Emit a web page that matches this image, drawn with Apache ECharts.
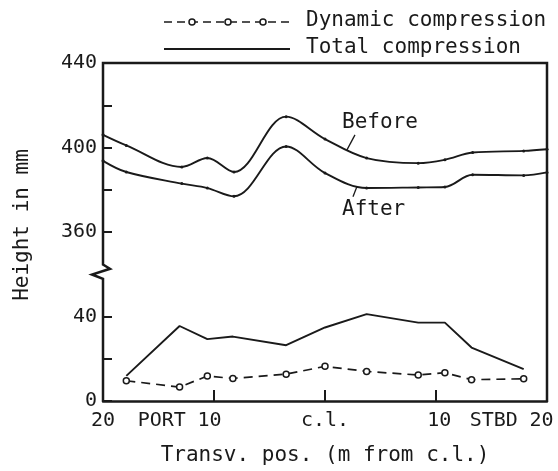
<!DOCTYPE html>
<html><head><meta charset="utf-8">
<script src="https://cdn.jsdelivr.net/npm/echarts@6/dist/echarts.min.js"></script>
<style>html,body{margin:0;padding:0;background:#fff}#c{width:558px;height:471px}</style>
</head><body><div id="c"></div>
<script>
// ---- data (transverse position in m; negative = PORT, positive = STBD) ----
const stations = [-17.9, -13.1, -10.6, -8.3, -3.5, 0, 3.75, 8.4, 10.8, 13.2, 17.9];
const totalCompression = [11.9, 35.5, 29.3, 30.5, 26.4, 34.8, 41.1, 37.1, 37.1, 25.3, 15.1];
const dynamicCompression = [9.6, 6.6, 11.8, 10.7, 12.7, 16.4, 14.0, 12.3, 13.4, 10.1, 10.5];
const upperStations = [-20, -17.9, -12.9, -10.6, -8.2, -3.5, 0, 3.75, 8.4, 10.8, 13.3, 17.9, 20];
const heightBefore = [406, 401, 390.8, 395, 388.4, 414.6, 404, 395, 392.6, 394.2, 397.6, 398.4, 399.2];
const heightAfter = [393.7, 388.4, 382.9, 380.8, 376.9, 400.5, 387.9, 380.8, 381.1, 381.3, 387.1, 386.8, 388.2];
const yTickValues = [0, 20, 40, 360, 380, 400, 420, 440];
const yLabelValues = [0, 40, 360, 400, 440];
const xTickValues = [-10, 0, 10];
const xLabelValues = [-20, -14.7, -10.4, 0, 10.3, 15.2, 19.5];
const xLabelTexts = ['20', 'PORT', '10', 'c.l.', '10', 'STBD', '20'];
const legendNames = ['Dynamic compression', 'Total compression'];

// broken axis: values above the break are shifted down by OFFSET
const OFFSET = 280;
const BREAK_AT = 61.3;
const toAxis = v => v >= 200 ? v - OFFSET : v;
const fromAxis = v => v >= 70 ? v + OFFSET : v;

const INK = '#1a1a1a';
const FONT = '"DejaVu Sans Mono", "Liberation Mono", monospace';

const chart = echarts.init(document.getElementById('c'));
const pair = (xs, ys) => xs.map((x, i) => [x, toAxis(ys[i])]);

chart.setOption({
  animation: false,
  backgroundColor: '#ffffff',
  grid: { left: 103, right: 11, top: 63, bottom: 69 },
  xAxis: {
    type: 'value', min: -20, max: 20,
    splitLine: { show: false },
    axisLine: { show: true, onZero: false, lineStyle: { color: INK, width: 2.5 } },
    axisTick: { show: true, inside: true, length: 11, customValues: xTickValues, lineStyle: { color: INK, width: 2 } },
    axisLabel: {
      customValues: xLabelValues, color: INK, fontFamily: FONT, fontSize: 20, margin: 10,
      formatter: v => {
        let best = 0;
        xLabelValues.forEach((p, i) => { if (Math.abs(p - v) < Math.abs(xLabelValues[best] - v)) best = i; });
        return xLabelTexts[best];
      }
    },
    name: 'Transv. pos. (m from c.l.)', nameLocation: 'middle', nameGap: 44,
    nameTextStyle: { color: INK, fontFamily: FONT, fontSize: 21 }
  },
  yAxis: {
    type: 'value', min: 0, max: 160,
    splitLine: { show: false },
    axisLine: { show: false, onZero: false },
    axisTick: { show: true, inside: true, length: 9, customValues: yTickValues.map(toAxis), lineStyle: { color: INK, width: 2 } },
    axisLabel: {
      customValues: yLabelValues.map(toAxis), color: INK, fontFamily: FONT, fontSize: 20, margin: 6,
      formatter: v => String(Math.round(fromAxis(v)))
    },
    name: 'Height in mm', nameLocation: 'middle', nameGap: 70, nameRotate: 90,
    nameTextStyle: { color: INK, fontFamily: FONT, fontSize: 21, padding: [0, 0, 0, 14] }
  },
  series: [
    {
      name: 'Before', type: 'line', data: pair(upperStations, heightBefore), smooth: 0.35,
      symbol: 'circle', symbolSize: 3, showSymbol: true,
      lineStyle: { color: INK, width: 1.9 }, itemStyle: { color: INK }
    },
    {
      name: 'After', type: 'line', data: pair(upperStations, heightAfter), smooth: 0.35,
      symbol: 'circle', symbolSize: 3,
      lineStyle: { color: INK, width: 1.9 }, itemStyle: { color: INK }
    },
    {
      name: legendNames[1], type: 'line', data: pair(stations, totalCompression),
      symbol: 'none', lineStyle: { color: INK, width: 1.9 }
    },
    {
      name: legendNames[0], type: 'line', data: pair(stations, dynamicCompression),
      symbol: 'circle', symbolSize: 6,
      lineStyle: { color: INK, width: 1.7, type: [9, 6] },
      itemStyle: { color: '#ffffff', borderColor: INK, borderWidth: 1.5 }
    }
  ]
});

// frame with axis-break zigzag, legend and curve annotations
const px = (x, y) => chart.convertToPixel({ gridIndex: 0 }, [x, y]);
const [xL, yB] = px(-20, 0);
const [xR, yT] = px(20, 160);
const yBr = px(-20, BREAK_AT)[1];

const bt = px(1.53, toAxis(411.7));
const bl1 = px(2.70, toAxis(406.0)), bl2 = px(1.98, toAxis(398.9));
const at = px(1.53, toAxis(370.6));
const al1 = px(2.88, toAxis(381.5)), al2 = px(2.52, toAxis(376.7));

const textStyle = (t) => ({ text: t, font: '21px ' + FONT, fill: INK, verticalAlign: 'middle', align: 'left' });
const lineEl = (a, b, w, dash) => ({
  type: 'line', shape: { x1: a[0], y1: a[1], x2: b[0], y2: b[1] },
  style: { stroke: INK, lineWidth: w, lineDash: dash || null }
});

const legendY1 = 22, legendY2 = 49, legendX0 = 164, legendX1 = 290, legendTextX = 306;

chart.setOption({
  graphic: [
    {
      type: 'polyline', silent: true,
      shape: { points: [
        [xL, yB], [xL, yBr + 7.3], [xL - 11, yBr + 3], [xL + 7, yBr - 2.7], [xL, yBr - 7],
        [xL, yT], [xR, yT], [xR, yB]
      ] },
      style: { stroke: INK, lineWidth: 2.5, fill: null }
    },
    { type: 'text', x: bt[0], y: bt[1], style: textStyle('Before') },
    lineEl(bl1, bl2, 1.3),
    { type: 'text', x: at[0], y: at[1], style: textStyle('After') },
    lineEl(al1, al2, 1.3),
    // legend
    lineEl([legendX0, legendY1], [legendX1, legendY1], 1.6, [8, 5]),
    ...[192, 228, 263].map(cx => ({
      type: 'circle', shape: { cx: cx, cy: legendY1, r: 3 },
      style: { fill: '#fff', stroke: INK, lineWidth: 1.5 }
    })),
    { type: 'text', x: legendTextX, y: legendY1 - 1, style: textStyle(legendNames[0]) },
    lineEl([legendX0, legendY2], [legendX1, legendY2], 1.8),
    { type: 'text', x: legendTextX, y: legendY2 - 1, style: textStyle(legendNames[1]) }
  ]
});
</script>
</body></html>
